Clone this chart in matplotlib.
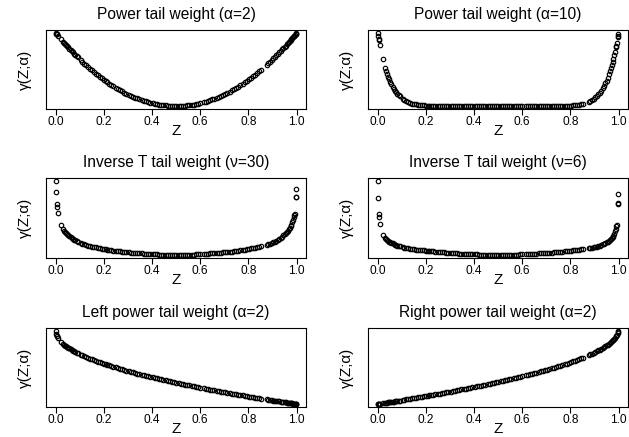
import matplotlib
matplotlib.use("Agg")
import matplotlib.pyplot as plt

plt.rcParams["font.family"] = ["Liberation Sans", "DejaVu Sans"]

# -----------------------------
# Data (y in panel units, 0 = lowest point)
# -----------------------------
z = [
    0.000, 0.002, 0.004, 0.005, 0.009, 0.022, 0.032, 0.036, 0.040, 0.044,
    0.048, 0.052, 0.057, 0.062, 0.067, 0.072, 0.077, 0.082, 0.087, 0.091,
    0.104, 0.111, 0.119, 0.127, 0.135, 0.143, 0.151, 0.159, 0.167, 0.175,
    0.183, 0.191, 0.199, 0.207, 0.215, 0.223, 0.231, 0.240, 0.249, 0.258,
    0.267, 0.276, 0.285, 0.294, 0.303, 0.312, 0.321, 0.330, 0.339, 0.348,
    0.357, 0.366, 0.375, 0.384, 0.393, 0.402, 0.411, 0.420, 0.429, 0.438,
    0.447, 0.456, 0.465, 0.474, 0.483, 0.492, 0.501, 0.510, 0.519, 0.528,
    0.537, 0.546, 0.555, 0.564, 0.573, 0.582, 0.591, 0.599, 0.616, 0.624,
    0.632, 0.641, 0.650, 0.659, 0.668, 0.677, 0.686, 0.695, 0.704, 0.713,
    0.722, 0.731, 0.740, 0.749, 0.758, 0.767, 0.776, 0.785, 0.794, 0.803,
    0.812, 0.820, 0.828, 0.836, 0.844, 0.852, 0.876, 0.883, 0.890, 0.897,
    0.904, 0.910, 0.916, 0.922, 0.928, 0.934, 0.940, 0.945, 0.950, 0.955,
    0.960, 0.964, 0.968, 0.972, 0.975, 0.978, 0.982, 0.985, 0.989, 0.990,
    0.993, 0.997, 0.998, 0.999,
]

power_a2 = [
    1.000, 0.992, 0.984, 0.980, 0.964, 0.914, 0.876, 0.861, 0.846, 0.832,
    0.817, 0.803, 0.785, 0.767, 0.750, 0.733, 0.716, 0.699, 0.682, 0.669,
    0.627, 0.605, 0.581, 0.557, 0.533, 0.510, 0.487, 0.465, 0.444, 0.423,
    0.402, 0.382, 0.362, 0.343, 0.325, 0.307, 0.289, 0.270, 0.252, 0.234,
    0.217, 0.201, 0.185, 0.170, 0.155, 0.141, 0.128, 0.116, 0.104, 0.092,
    0.082, 0.072, 0.063, 0.054, 0.046, 0.038, 0.032, 0.026, 0.020, 0.015,
    0.011, 0.008, 0.005, 0.003, 0.001, 0.000, 0.000, 0.000, 0.001, 0.003,
    0.005, 0.008, 0.012, 0.016, 0.021, 0.027, 0.033, 0.039, 0.054, 0.062,
    0.070, 0.080, 0.090, 0.101, 0.113, 0.125, 0.138, 0.152, 0.166, 0.181,
    0.197, 0.213, 0.230, 0.248, 0.266, 0.285, 0.305, 0.325, 0.346, 0.367,
    0.389, 0.410, 0.430, 0.452, 0.473, 0.496, 0.566, 0.587, 0.608, 0.630,
    0.653, 0.672, 0.692, 0.712, 0.733, 0.753, 0.774, 0.792, 0.810, 0.828,
    0.846, 0.861, 0.876, 0.891, 0.903, 0.914, 0.929, 0.941, 0.956, 0.960,
    0.972, 0.988, 0.992, 0.996,
]

power_a10 = [
    1.000, 0.961, 0.923, 0.904, 0.834, 0.638, 0.516, 0.474, 0.434, 0.398,
    0.365, 0.333, 0.298, 0.266, 0.237, 0.211, 0.188, 0.167, 0.148, 0.134,
    0.097, 0.081, 0.066, 0.053, 0.043, 0.034, 0.027, 0.022, 0.017, 0.014,
    0.011, 0.008, 0.006, 0.005, 0.004, 0.003, 0.002, 0.001, 0.001, 0.001,
    0.000, 0.000, 0.000, 0.000, 0.000, 0.000, 0.000, 0.000, 0.000, 0.000,
    0.000, 0.000, 0.000, 0.000, 0.000, 0.000, 0.000, 0.000, 0.000, 0.000,
    0.000, 0.000, 0.000, 0.000, 0.000, 0.000, 0.000, 0.000, 0.000, 0.000,
    0.000, 0.000, 0.000, 0.000, 0.000, 0.000, 0.000, 0.000, 0.000, 0.000,
    0.000, 0.000, 0.000, 0.000, 0.000, 0.000, 0.000, 0.000, 0.000, 0.000,
    0.000, 0.000, 0.001, 0.001, 0.001, 0.002, 0.003, 0.004, 0.005, 0.007,
    0.009, 0.012, 0.015, 0.019, 0.024, 0.030, 0.058, 0.070, 0.083, 0.100,
    0.119, 0.137, 0.159, 0.183, 0.211, 0.243, 0.279, 0.312, 0.349, 0.389,
    0.434, 0.474, 0.516, 0.562, 0.599, 0.638, 0.693, 0.737, 0.801, 0.817,
    0.869, 0.942, 0.961, 0.980,
]

inv_t30 = [
    1.000, 0.856, 0.685, 0.649, 0.564, 0.405, 0.347, 0.330, 0.315, 0.300,
    0.285, 0.272, 0.258, 0.245, 0.232, 0.220, 0.208, 0.197, 0.186, 0.178,
    0.160, 0.152, 0.143, 0.135, 0.128, 0.121, 0.115, 0.109, 0.103, 0.097,
    0.092, 0.087, 0.082, 0.077, 0.072, 0.068, 0.064, 0.060, 0.056, 0.052,
    0.048, 0.045, 0.042, 0.039, 0.036, 0.033, 0.030, 0.028, 0.025, 0.023,
    0.021, 0.019, 0.017, 0.015, 0.013, 0.011, 0.010, 0.008, 0.007, 0.006,
    0.005, 0.004, 0.003, 0.002, 0.001, 0.000, 0.000, 0.001, 0.001, 0.002,
    0.003, 0.004, 0.005, 0.006, 0.007, 0.009, 0.010, 0.011, 0.015, 0.017,
    0.019, 0.021, 0.023, 0.025, 0.027, 0.030, 0.032, 0.035, 0.038, 0.041,
    0.044, 0.047, 0.051, 0.055, 0.059, 0.063, 0.067, 0.072, 0.077, 0.083,
    0.089, 0.094, 0.100, 0.105, 0.111, 0.117, 0.138, 0.146, 0.153, 0.161,
    0.170, 0.180, 0.192, 0.205, 0.220, 0.235, 0.250, 0.265, 0.280, 0.297,
    0.315, 0.330, 0.347, 0.365, 0.390, 0.405, 0.440, 0.470, 0.520, 0.540,
    0.560, 0.780, 0.780, 0.890,
]

inv_t6 = [
    1.000, 0.774, 0.560, 0.520, 0.420, 0.270, 0.225, 0.212, 0.200, 0.190,
    0.182, 0.175, 0.165, 0.157, 0.149, 0.141, 0.134, 0.127, 0.121, 0.117,
    0.104, 0.099, 0.094, 0.090, 0.085, 0.081, 0.077, 0.074, 0.071, 0.068,
    0.065, 0.062, 0.059, 0.056, 0.053, 0.050, 0.048, 0.045, 0.042, 0.040,
    0.037, 0.035, 0.032, 0.030, 0.028, 0.026, 0.024, 0.022, 0.020, 0.018,
    0.016, 0.015, 0.013, 0.012, 0.010, 0.009, 0.008, 0.007, 0.006, 0.005,
    0.004, 0.003, 0.002, 0.002, 0.001, 0.000, 0.000, 0.001, 0.001, 0.002,
    0.003, 0.003, 0.004, 0.005, 0.006, 0.007, 0.008, 0.009, 0.011, 0.012,
    0.014, 0.016, 0.018, 0.020, 0.022, 0.024, 0.026, 0.028, 0.030, 0.032,
    0.034, 0.036, 0.039, 0.042, 0.044, 0.047, 0.050, 0.053, 0.056, 0.059,
    0.063, 0.066, 0.069, 0.072, 0.075, 0.078, 0.090, 0.094, 0.099, 0.104,
    0.110, 0.115, 0.121, 0.128, 0.136, 0.145, 0.155, 0.163, 0.172, 0.182,
    0.194, 0.205, 0.216, 0.230, 0.245, 0.260, 0.280, 0.318, 0.355, 0.386,
    0.400, 0.690, 0.700, 0.830,
]

left_a2 = [
    1.000, 0.955, 0.937, 0.929, 0.905, 0.852, 0.821, 0.810, 0.800, 0.790,
    0.781, 0.772, 0.761, 0.751, 0.741, 0.732, 0.723, 0.714, 0.705, 0.698,
    0.678, 0.667, 0.655, 0.644, 0.633, 0.622, 0.611, 0.601, 0.591, 0.582,
    0.572, 0.563, 0.554, 0.545, 0.536, 0.528, 0.519, 0.510, 0.501, 0.492,
    0.483, 0.475, 0.466, 0.458, 0.450, 0.441, 0.433, 0.426, 0.418, 0.410,
    0.403, 0.395, 0.388, 0.380, 0.373, 0.366, 0.359, 0.352, 0.345, 0.338,
    0.331, 0.325, 0.318, 0.312, 0.305, 0.299, 0.292, 0.286, 0.280, 0.273,
    0.267, 0.261, 0.255, 0.249, 0.243, 0.237, 0.231, 0.226, 0.215, 0.210,
    0.205, 0.199, 0.194, 0.188, 0.183, 0.177, 0.172, 0.166, 0.161, 0.156,
    0.150, 0.145, 0.140, 0.135, 0.129, 0.124, 0.119, 0.114, 0.109, 0.104,
    0.099, 0.094, 0.090, 0.086, 0.081, 0.077, 0.064, 0.060, 0.057, 0.053,
    0.049, 0.046, 0.043, 0.040, 0.037, 0.034, 0.030, 0.028, 0.025, 0.023,
    0.020, 0.018, 0.016, 0.014, 0.013, 0.011, 0.009, 0.008, 0.006, 0.005,
    0.004, 0.002, 0.001, 0.001,
]

right_a2 = [
    0.000, 0.001, 0.002, 0.003, 0.005, 0.011, 0.016, 0.018, 0.020, 0.022,
    0.024, 0.026, 0.029, 0.031, 0.034, 0.037, 0.039, 0.042, 0.044, 0.047,
    0.053, 0.057, 0.061, 0.066, 0.070, 0.074, 0.079, 0.083, 0.087, 0.092,
    0.096, 0.101, 0.105, 0.109, 0.114, 0.119, 0.123, 0.128, 0.133, 0.139,
    0.144, 0.149, 0.154, 0.160, 0.165, 0.171, 0.176, 0.181, 0.187, 0.193,
    0.198, 0.204, 0.209, 0.215, 0.221, 0.227, 0.233, 0.238, 0.244, 0.250,
    0.256, 0.262, 0.269, 0.275, 0.281, 0.287, 0.294, 0.300, 0.306, 0.313,
    0.320, 0.326, 0.333, 0.340, 0.347, 0.353, 0.360, 0.367, 0.380, 0.387,
    0.393, 0.401, 0.408, 0.416, 0.424, 0.432, 0.440, 0.448, 0.456, 0.464,
    0.473, 0.481, 0.490, 0.499, 0.508, 0.517, 0.527, 0.536, 0.546, 0.556,
    0.566, 0.576, 0.585, 0.595, 0.605, 0.615, 0.648, 0.658, 0.668, 0.679,
    0.690, 0.700, 0.710, 0.721, 0.732, 0.743, 0.755, 0.765, 0.776, 0.788,
    0.800, 0.810, 0.821, 0.833, 0.842, 0.852, 0.866, 0.878, 0.895, 0.900,
    0.916, 0.945, 0.955, 0.968,
]

titles = [
    "Power tail weight (\u03b1=2)",
    "Power tail weight (\u03b1=10)",
    "Inverse T tail weight (\u03bd=30)",
    "Inverse T tail weight (\u03bd=6)",
    "Left power tail weight (\u03b1=2)",
    "Right power tail weight (\u03b1=2)",
]
series = [power_a2, power_a10, inv_t30, inv_t6, left_a2, right_a2]
tick_vals = [0.0, 0.2, 0.4, 0.6, 0.8, 1.0]
tick_labels = ["0.0", "0.2", "0.4", "0.6", "0.8", "1.0"]

# -----------------------------
# Layout (R style 3x2 panels)
# -----------------------------
W, H = 629, 437
fig = plt.figure(figsize=(W / 100, H / 100), dpi=100)

col_left = [46, 368]
box_w = 260
rows = [(30, 109), (178, 258), (328, 407)]

xmin, xmax = min(z), max(z)
xpad = 0.04 * (xmax - xmin)

for i, (title, vals) in enumerate(zip(titles, series)):
    r, c = divmod(i, 2)
    top, bottom = rows[r]
    ax = fig.add_axes([col_left[c] / W, 1 - bottom / H,
                       box_w / W, (bottom - top) / H])

    ax.plot(z, vals, "o", mfc="none", mec="black", ms=3.2, mew=0.85)

    ymin, ymax = min(vals), max(vals)
    ypad = 0.04 * (ymax - ymin)
    ax.set_xlim(xmin - xpad, xmax + xpad)
    ax.set_ylim(ymin - ypad, ymax + ypad)

    ax.set_xticks(tick_vals)
    ax.set_xticklabels(tick_labels)
    ax.set_yticks([])
    ax.tick_params(axis="x", direction="out", length=4, width=0.8,
                   labelsize=8.6, pad=1.0)
    for s in ax.spines.values():
        s.set_linewidth(0.8)

    ax.set_title(title, fontsize=11.2, pad=8)
    ax.set_xlabel("Z", fontsize=11, labelpad=-2.5)
    ax.set_ylabel("\u03b3(Z;\u03b1)", fontsize=11, labelpad=10)

fig.savefig("out.png", dpi=100)
